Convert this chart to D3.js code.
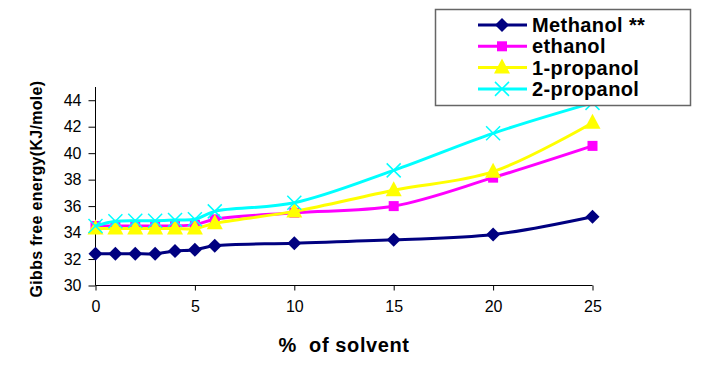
<!DOCTYPE html>
<html>
<head>
<meta charset="utf-8">
<script src="https://cdn.jsdelivr.net/npm/d3@7"></script>
<style>
  html, body { margin: 0; padding: 0; background: #fff; }
  svg { display: block; font-family: "Liberation Sans", Arial, sans-serif; }
</style>
</head>
<body>
<div id="chart"></div>
<script>
const solvent = [0, 1, 2, 3, 4, 5, 6, 10, 15, 20, 25];
const methanol = [32.4, 32.4, 32.4, 32.4, 32.6, 32.7, 33.0, 33.2, 33.45, 33.85, 35.2];
const ethanol = [34.5, 34.5, 34.5, 34.5, 34.5, 34.6, 35.0, 35.5, 36.0, 38.15, 40.55];
const propanol1 = [34.3, 34.3, 34.3, 34.3, 34.3, 34.3, 34.7, 35.6, 37.2, 38.6, 42.3];
const propanol2 = [34.5, 34.85, 34.9, 34.9, 34.95, 35.0, 35.6, 36.25, 38.7, 41.5, 43.8];
const seriesNames = ["Methanol **", "ethanol", "1-propanol", "2-propanol"];
const xTicks = [0, 5, 10, 15, 20, 25];
const yTicks = [30, 32, 34, 36, 38, 40, 42, 44];

const width = 702, height = 372;
const series = [
  { name: seriesNames[0], values: methanol, color: "#000080", marker: "diamond" },
  { name: seriesNames[1], values: ethanol, color: "#ff00ff", marker: "square" },
  { name: seriesNames[2], values: propanol1, color: "#ffff00", marker: "triangle" },
  { name: seriesNames[3], values: propanol2, color: "#00ffff", marker: "cross" }
];

const svg = d3.select("#chart").append("svg")
  .attr("width", width).attr("height", height)
  .attr("viewBox", `0 0 ${width} ${height}`);

const x = d3.scaleLinear().domain([0, 25]).range([95.5, 592.5]);
const y = d3.scaleLinear().domain([30, 45]).range([285.5, 87]);

// axes
const yAxis = svg.append("g")
  .attr("transform", `translate(${x(0)},0)`)
  .call(d3.axisLeft(y).tickValues(yTicks).tickSize(7).tickPadding(7).tickFormat(d3.format("d")));
yAxis.select(".domain").attr("d", `M0,${y(45)}V${y(30)}`).attr("stroke", "#000");
yAxis.selectAll("text").attr("font-size", 16).attr("fill", "#000").attr("font-family", "Liberation Sans, Arial");

const xAxis = svg.append("g")
  .attr("transform", `translate(0,${y(30)})`)
  .call(d3.axisBottom(x).tickValues(xTicks).tickSize(5).tickPadding(10).tickFormat(d3.format("d")));
xAxis.select(".domain").attr("d", `M${x(0)},0H${x(25)}`).attr("stroke", "#000");
xAxis.selectAll("text").attr("font-size", 16).attr("fill", "#000").attr("font-family", "Liberation Sans, Arial");

// lines and markers
const line = d3.line()
  .x((d, i) => x(solvent[i]))
  .y(d => y(d))
  .curve(d3.curveCatmullRom.alpha(0.5));

function drawMarker(g, type, color) {
  if (type === "diamond") {
    g.append("path").attr("d", "M0,-7L7,0L0,7L-7,0Z").attr("fill", color);
  } else if (type === "square") {
    g.append("rect").attr("x", -5).attr("y", -5).attr("width", 10).attr("height", 10).attr("fill", color);
  } else if (type === "triangle") {
    g.append("path").attr("d", "M0,-9L8,6L-8,6Z").attr("fill", color);
  } else {
    g.append("path").attr("d", "M-7,-7L7,7M-7,7L7,-7")
      .attr("stroke", color).attr("stroke-width", 1.5).attr("fill", "none");
  }
}

series.forEach(s => {
  svg.append("path")
    .attr("d", line(s.values))
    .attr("fill", "none")
    .attr("stroke", s.color)
    .attr("stroke-width", 3);
  s.values.forEach((v, i) => {
    const g = svg.append("g").attr("transform", `translate(${x(solvent[i])},${y(v)})`);
    drawMarker(g, s.marker, s.color);
  });
});

// axis titles
svg.append("text")
  .attr("transform", `translate(42,189) rotate(-90)`)
  .attr("text-anchor", "middle")
  .attr("font-size", 16)
  .attr("font-weight", "bold")
  .attr("letter-spacing", 0.3)
  .text("Gibbs free energy(KJ/mole)");

svg.append("text")
  .attr("x", 344).attr("y", 352)
  .attr("text-anchor", "middle")
  .attr("font-size", 20)
  .attr("font-weight", "bold")
  .attr("letter-spacing", 0.6)
  .attr("xml:space", "preserve")
  .style("white-space", "pre")
  .text("%  of solvent");

// legend
const legend = svg.append("g");
legend.append("rect")
  .attr("x", 435.5).attr("y", 9.5).attr("width", 255).attr("height", 96)
  .attr("fill", "#fff").attr("stroke", "#666").attr("stroke-width", 1.5);

series.forEach((s, i) => {
  const ly = 25 + i * 21.3;
  const g = legend.append("g").attr("transform", `translate(0,${ly})`);
  g.append("line").attr("x1", 478).attr("x2", 527).attr("y1", 0).attr("y2", 0)
    .attr("stroke", s.color).attr("stroke-width", 3);
  drawMarker(g.append("g").attr("transform", "translate(502,0)"), s.marker, s.color);
  g.append("text").attr("x", 532).attr("y", 7)
    .attr("font-size", 20).attr("font-weight", "bold")
    .attr("letter-spacing", 0.4)
    .text(s.name);
});
</script>
</body>
</html>
